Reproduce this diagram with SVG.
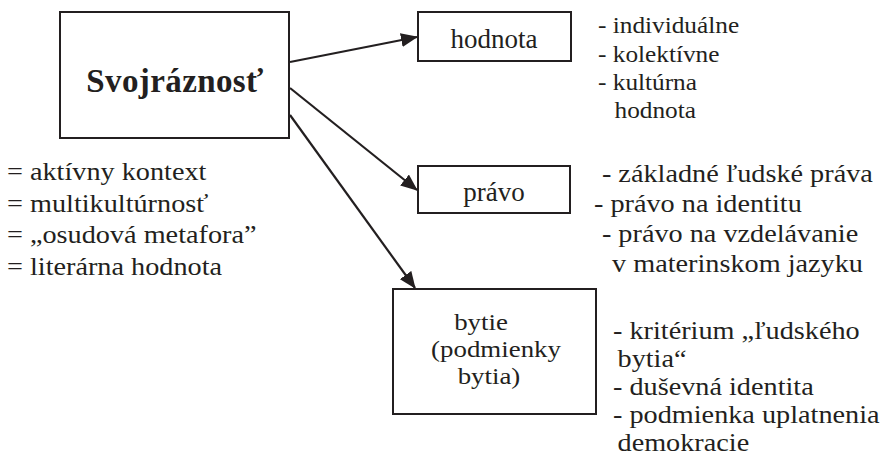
<svg xmlns="http://www.w3.org/2000/svg" width="883" height="466" viewBox="0 0 883 466" font-family="Liberation Serif, serif">
  <style>
    .box { fill: #ffffff; stroke: #231f20; stroke-width: 2; }
    .edge { fill: none; stroke: #231f20; stroke-width: 2.2; }
    text { fill: #231f20; }
    .title { font-size: 33px; font-weight: bold; letter-spacing: 0.4px; }
    .label { font-size: 27px; }
    .list { font-size: 25px; }
  </style>
  <defs>
    <marker id="arrow" markerWidth="17" markerHeight="14" refX="16" refY="7" orient="auto" markerUnits="userSpaceOnUse">
      <path d="M0,0 L17,7 L0,14 Z" fill="#231f20"/>
    </marker>
  </defs>
  <rect width="883" height="466" fill="#ffffff"/>

  <g id="connectors">
    <line class="edge" x1="290" y1="62" x2="417" y2="37" marker-end="url(#arrow)"/>
    <line class="edge" x1="290" y1="88" x2="417" y2="190" marker-end="url(#arrow)"/>
    <line class="edge" x1="290" y1="115" x2="415" y2="288" marker-end="url(#arrow)"/>
  </g>

  <g id="svojraznost">
    <rect class="box" x="60" y="12" width="229" height="126"/>
    <text class="title" x="175" y="92" text-anchor="middle">Svojráznosť</text>
  </g>

  <g id="hodnota">
    <rect class="box" x="418" y="12" width="153" height="49"/>
    <text class="label" x="494" y="48" text-anchor="middle">hodnota</text>
  </g>

  <g id="pravo">
    <rect class="box" x="418" y="166" width="152" height="47"/>
    <text class="label" x="494" y="201" text-anchor="middle">právo</text>
  </g>

  <g id="bytie">
    <rect class="box" x="393" y="289" width="203" height="125"/>
    <g transform="translate(0,0) scale(1.12,1)" font-size="24">
      <text x="429.5" y="330" text-anchor="middle">bytie</text>
      <text x="442.9" y="357" text-anchor="middle">(podmienky</text>
      <text x="436.6" y="384" text-anchor="middle">bytia)</text>
    </g>
  </g>

  <g id="notes-svojraznost" transform="translate(7,0) scale(1.13,1)">
    <text class="list" x="0" y="180">= aktívny kontext</text>
    <text class="list" x="0" y="212">= multikultúrnosť</text>
    <text class="list" x="0" y="243">= „osudová metafora”</text>
    <text class="list" x="0" y="275">= literárna hodnota</text>
  </g>

  <g id="notes-hodnota" transform="translate(598,0) scale(1.1,1)">
    <text class="list" style="font-size:23px" x="0" y="33">- individuálne</text>
    <text class="list" style="font-size:23px" x="0" y="62">- kolektívne</text>
    <text class="list" style="font-size:23px" x="0" y="90">- kultúrna</text>
    <text class="list" style="font-size:23px" x="15" y="118">hodnota</text>
  </g>

  <g id="notes-pravo" transform="translate(594,0) scale(1.13,1)">
    <text class="list" x="7" y="182">- základné ľudské práva</text>
    <text class="list" x="0" y="212">- právo na identitu</text>
    <text class="list" x="7" y="242">- právo na vzdelávanie</text>
    <text class="list" x="16" y="272">v materinskom jazyku</text>
  </g>

  <g id="notes-bytie" transform="translate(613,0) scale(1.13,1)">
    <text class="list" x="0" y="339">- kritérium „ľudského</text>
    <text class="list" x="4" y="367">bytia“</text>
    <text class="list" x="0" y="395">- duševná identita</text>
    <text class="list" x="0" y="423">- podmienka uplatnenia</text>
    <text class="list" x="4" y="451">demokracie</text>
  </g>
</svg>
